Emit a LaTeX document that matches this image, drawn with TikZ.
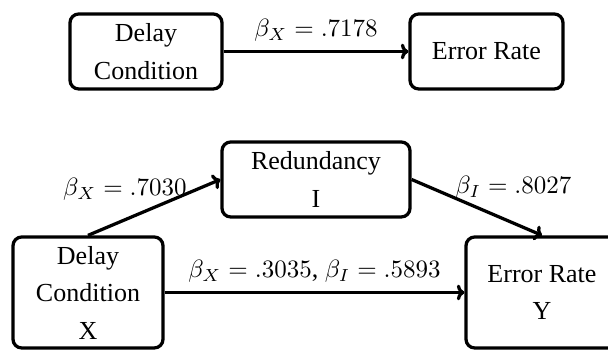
\documentclass[tikz,border=0pt]{standalone}
\usepackage[no-math]{fontspec}
\setmainfont{Liberation Serif}
\usetikzlibrary{arrows.meta,positioning}

\begin{document}
\begin{tikzpicture}[
    x=0.4pt, y=-0.4pt,
    vbox/.style={rectangle, draw, rounded corners=3.5pt, line width=1.3pt, align=center, inner sep=0pt, font=\fontsize{10.4pt}{15pt}\selectfont},
    lbl/.style={font=\fontsize{10.4pt}{15pt}\selectfont},
    arrow/.style={-{To[length=3pt]}, line width=1.3pt}
]
\useasboundingbox (0,0) rectangle (608,350);

% total effect
\node[vbox, minimum width=60.8pt, minimum height=30pt] (delay) at (146, 51.5) {Delay\\Condition};
\node[vbox, minimum width=61.2pt, minimum height=30pt] (error) at (486.5, 51.5) {Error Rate};
\draw[arrow] (delay) -- node[lbl, above] {$\beta_X = .7178$} (error);

% mediation model
\node[vbox, minimum width=75.2pt, minimum height=30pt] (redund) at (316, 179.5) {Redundancy\\I};
\node[vbox, minimum width=60pt, minimum height=44.4pt] (condx) at (88, 292.5) {Delay\\Condition\\X};
\node[vbox, minimum width=60.8pt, minimum height=44.4pt] (ratey) at (542, 292.5) {Error Rate\\Y};

\draw[arrow] (condx.north) -- node[lbl, pos=0.82, left] {$\beta_X = .7030$} (redund.west);
\draw[arrow] (redund.east) -- node[lbl, pos=0.26, right, yshift=2.8pt] {$\beta_I = .8027$} (ratey.north);
\draw[arrow] (condx) -- node[lbl, above] {$\beta_X = .3035$, $\beta_I = .5893$} (ratey);
\end{tikzpicture}
\end{document}
